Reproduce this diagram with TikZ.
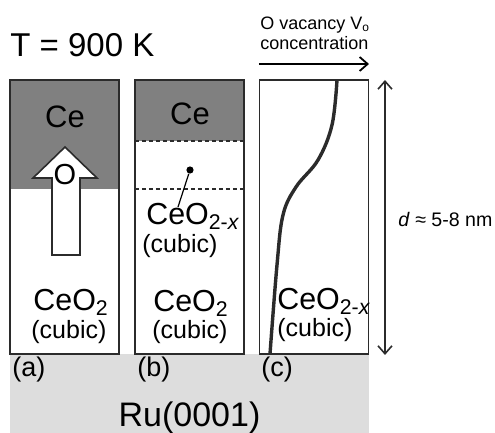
\documentclass[tikz,border=0pt]{standalone}
\usepackage{fontspec}
\setmainfont{Liberation Sans}
\usetikzlibrary{arrows.meta,positioning}
\definecolor{cegray} {HTML}{808080}
\definecolor{rugray} {HTML}{DDDDDD}
\definecolor{inkgray}{HTML}{2B2B2B}

\begin{document}
\begin{tikzpicture}[
  panel/.style={draw=inkgray,line width=0.8pt,minimum width=54.5pt,
                minimum height=137pt,inner sep=0pt},
  lbl/.style={inner sep=0pt,anchor=base west},
  clbl/.style={inner sep=0pt,anchor=base},
  tfont/.style={font=\fontsize{16.5}{19}\selectfont},
  cefont/.style={font=\fontsize{15.5}{18}\selectfont},
  oxfont/.style={font=\fontsize{15.2}{18}\selectfont},
  cubfont/.style={font=\fontsize{12.5}{15}\selectfont},
  tagfont/.style={font=\fontsize{13.5}{16}\selectfont},
  smallfont/.style={font=\fontsize{9}{11}\selectfont},
  arr/.style={-{Straight Barb[length=4pt,width=7pt,line width=0.9pt]},line width=1pt},
  darr/.style={{Straight Barb[length=4pt,width=7pt,line width=0.8pt]}-{Straight Barb[length=4pt,width=7pt,line width=0.8pt]},
               line width=0.8pt,draw=inkgray},
  x=0.5pt, y=-0.5pt
]
\useasboundingbox (0,0) rectangle (495,433);

% --- substrate and Ce layers ---
\fill[rugray] (10,354) rectangle (369,433);
\fill[cegray] (10,80)  rectangle (119,189);
\fill[cegray] (135,80) rectangle (244,141);

% --- 3 panels ---
\node[panel] (pa) at (64.5,217) {};
\node[panel] (pb) at (189.5,217) {};
\node[panel] (pc) at (314,217) {};

% --- panel (a): O moving up ---
\draw[draw=inkgray,fill=white,line width=0.8pt]
  (52,255) -- (52,178) -- (33,178) -- (65,147) -- (97,178) -- (80,178) -- (80,255) -- cycle;
\node[inner sep=0pt,font=\fontsize{14.5}{17}\selectfont] (oa) at (65,175) {O};
\node[clbl,cefont] (cea) at (65,128) {Ce};
\node[lbl,oxfont]  (oxa) at (33,311) {CeO\textsubscript{2}};
\node[lbl,cubfont] (cua) at (31,339) {(cubic)};

% --- panel (b): reduced interlayer ---
\draw[inkgray,dashed,dash pattern=on 2pt off 1.5pt,line width=0.6pt] (135,141) -- (244,141);
\draw[inkgray,dashed,dash pattern=on 2pt off 1.5pt,line width=0.6pt] (135,189) -- (244,189);
\node[clbl,cefont] (ceb) at (190,125) {Ce};
\node[circle,fill=black,inner sep=0pt,minimum size=3.6pt] (vdot) at (190,170) {};
\coordinate (vfoot) at (178,207);
\draw[line width=0.6pt] (vdot) -- (vfoot);
\node[lbl,oxfont]  (oxbx) at (146,225) {CeO\textsubscript{2-\textit{x}}};
\node[lbl,cubfont] (cubx) at (142,253) {(cubic)};
\node[lbl,oxfont]  (oxb)  at (153,312) {CeO\textsubscript{2}};
\node[lbl,cubfont] (cub)  at (152,339) {(cubic)};

% --- panel (c): vacancy profile ---
\draw[inkgray,line width=1.7pt] plot[smooth,tension=0.6] coordinates
  {(337,80) (332,125) (318,160) (296,187) (283,215) (277,265) (270,354)};
\node[lbl,oxfont]  (oxc) at (277,310) {CeO\textsubscript{2-\textit{x}}};
\node[lbl,cubfont] (cuc) at (277,337) {(cubic)};

% --- top labels ---
\node[lbl,tfont] (temp) at (10,57) {T = 900 K};
\node[lbl,smallfont] (vac1) at (260,30) {O vacancy V\textsubscript{o}};
\node[lbl,smallfont] (vac2) at (260,50) {concentration};
\coordinate (vstart) at (259,64);
\coordinate (vend)   at (369,64);
\draw[arr] (vstart) -- (vend);

% --- thickness ---
\coordinate (dtop) at (385,80);
\coordinate (dbot) at (385,355);
\draw[darr] (dtop) -- (dbot);
\node[lbl,font=\fontsize{9.8}{12}\selectfont] (thick) at (398,227) {\textit{d} ≈ 5-8 nm};

% --- panel tags and substrate ---
\node[lbl,tagfont] (taga) at (12,377)  {(a)};
\node[lbl,tagfont] (tagb) at (137,377) {(b)};
\node[lbl,tagfont] (tagc) at (261,377) {(c)};
\node[clbl,font=\fontsize{17}{20}\selectfont] (ru) at (189.5,427) {Ru(0001)};
\end{tikzpicture}
\end{document}
